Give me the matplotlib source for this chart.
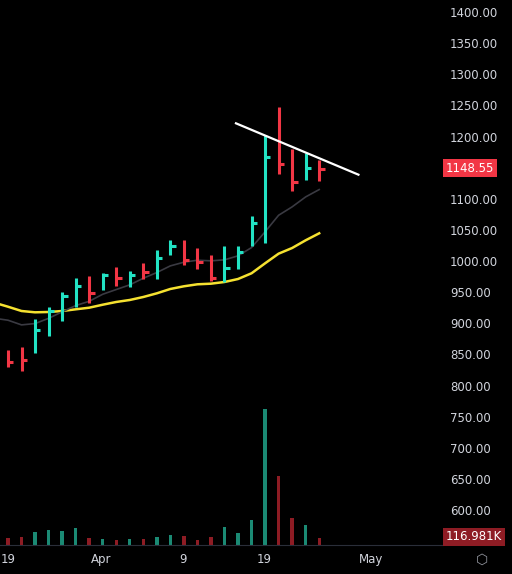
import matplotlib
matplotlib.use("Agg")
import matplotlib.pyplot as plt
import numpy as np

highs  = [857.1,861.9,906.9,926.1,950.2,972.7,975.9,980.8,990.4,984.0,996.8,1017.7,1033.8,1033.8,1020.9,1009.7,1024.1,1024.1,1072.3,1202.4,1247.4,1179.9,1173.5,1162.3]
lows   = [829.7,823.3,852.2,879.6,903.7,926.1,932.6,953.4,959.9,958.3,971.1,971.1,1009.7,993.6,987.2,967.9,966.3,987.2,1024.1,1029.0,1139.8,1112.5,1130.1,1128.6]
closes = [837.8,841.0,889.2,919.7,943.8,959.9,948.6,977.6,972.7,977.6,982.4,1004.9,1024.1,1001.6,998.4,972.7,988.8,1014.5,1061.1,1167.1,1155.9,1126.9,1149.4,1148.55]
up     = [0,0,1,1,1,1,0,1,0,1,0,1,1,0,0,0,1,1,1,1,0,0,1,0]
volumes_k = [117,133,208,240,224,272,117,96,80,96,96,128,160,144,80,128,288,192,400,2176,1104,432,320,116.981]
ma_slow = [933,926.6,919.7,917.6,918.1,919.7,922.4,925.0,929.8,934.2,937.4,942.2,948.1,955.1,959.4,962.6,963.6,966.3,971.1,980.3,996.3,1011.8,1020.9,1033.3,1044.5]
ma_fast = [908,904.9,897.4,899.5,907.9,918.3,928.4,935.3,946.6,954.2,961.7,972.3,981.5,992.2,998.1,1001.3,1000.3,1001.9,1008.3,1021.6,1046.9,1073.5,1087.0,1103.0,1114.8]
trend_x = [16.85, 25.9]
trend_y = [1221.2, 1138.7]
xtick_pos = [0, 6.9, 12.9, 18.9, 26.8]
xtick_labels = ["19", "Apr", "9", "19", "May"]
price_ticks = [p for p in range(600, 1401, 50) if p != 1150]

GREEN = "#22e3c4"; RED = "#f23645"
VGREEN = "#1b8a74"; VRED = "#8e1c24"
TXT = "#d1d4dc"

W, H = 512, 574
fig = plt.figure(figsize=(W/100, H/100), dpi=100, facecolor="black")
ax = fig.add_axes([0, 1-545/H, 443/W, 545/H], facecolor="black")
ax.set_xlim(-0.59, 32.15)
ax.set_ylim(543.8, 1419.3)

idx = np.arange(len(closes))
for i in idx:
    c = GREEN if up[i] else RED
    ax.plot([i, i], [lows[i], highs[i]], color=c, lw=2.2, solid_capstyle="butt", zorder=3)
    ax.plot([i, i+0.4], [closes[i], closes[i]], color=c, lw=2.2, solid_capstyle="butt", zorder=3)

ma_x = np.arange(-1, len(closes))
ax.plot(ma_x, ma_slow, color="#f5e130", lw=1.8, zorder=2)
ax.plot(ma_x, ma_fast, color="#3a3a42", lw=1.2, zorder=2)
ax.plot(trend_x, trend_y, color="white", lw=1.6, zorder=4)

vax = ax.twinx()
vax.set_ylim(0, 8720)
vax.bar(idx, volumes_k, width=0.25, color=[VGREEN if u else VRED for u in up], zorder=1)
vax.set_yticks([])
ax.set_zorder(vax.get_zorder()+1); ax.patch.set_visible(False)
for a in (ax, vax):
    for s in a.spines.values():
        s.set_visible(False)
ax.spines["bottom"].set_visible(True)
ax.spines["bottom"].set_color("#2a2e39")

ax.yaxis.tick_right()
ax.set_yticks(price_ticks)
ax.set_yticklabels([f"{p:.2f}" for p in price_ticks], color=TXT, fontsize=8.5)
ax.tick_params(axis="y", length=0, pad=5)
ax.set_xticks(xtick_pos)
ax.set_xticklabels(xtick_labels, color=TXT, fontsize=8.5)
ax.tick_params(axis="x", length=0, pad=6)

fig.text(446/W, 1-168/H, f"{closes[-1]:.2f}", color="white", fontsize=8.5, va="center", ha="left",
         bbox=dict(boxstyle="square,pad=0.25", fc=RED, ec="none"))
fig.text(446/W, 1-537/H, f"{volumes_k[-1]:.3f}K", color="white", fontsize=8.5, va="center", ha="left",
         bbox=dict(boxstyle="square,pad=0.25", fc=VRED, ec="none"))
fig.text(482/W, 1-560/H, "\u2b21", color="#9598a1", fontsize=10, va="center", ha="center", family="DejaVu Sans")

fig.savefig("out.png", dpi=100, facecolor="black")
